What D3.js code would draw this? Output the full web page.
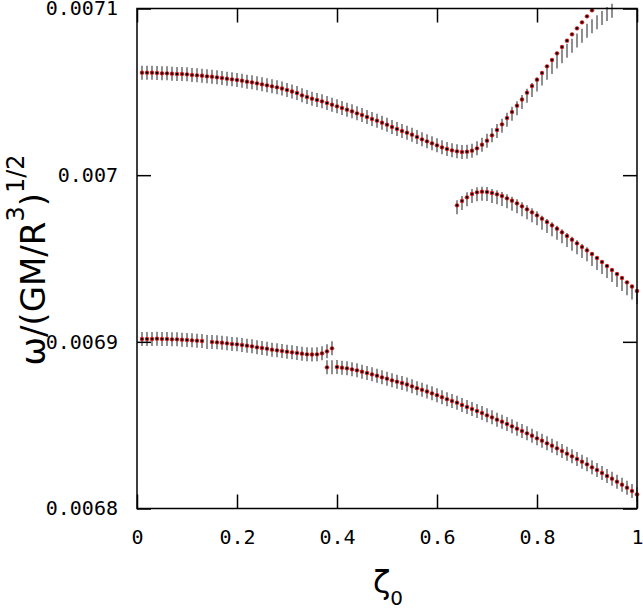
<!DOCTYPE html>
<html><head><meta charset="utf-8">
<script src="https://cdn.jsdelivr.net/npm/d3@7"></script>
<style>body{margin:0;background:#fff}</style>
</head><body>
<script>
// omega values are given in units of 1e-6 (sqrt(GM/R^3))
const UNIT = 1e-6;
const STEP = 0.01;           // spacing of zeta_0 samples
const ERR_HALF = 4.2;        // half-length of the error bars (same units)

// upper branch, zeta_0 = 0.01 ... 0.95
const startA = 0.01;
const omegaA = [7061.5,7061.5,7061.5,7061.3,7061.1,7061.1,7060.9,7060.7,7060.7,7060.5,
  7060.1,7059.9,7059.7,7059.3,7059.1,7058.7,7058.3,7057.9,7057.5,7057.1,
  7056.7,7056.1,7055.7,7055.1,7054.5,7053.9,7053.3,7052.7,7052.0,7051.1,
  7050.2,7049.3,7047.9,7046.9,7045.9,7045.1,7044.3,7043.3,7042.3,7041.3,
  7040.3,7039.3,7038.3,7037.1,7036.1,7034.9,7033.7,7032.7,7031.5,7030.3,
  7028.9,7027.7,7026.5,7025.5,7024.3,7022.9,7021.5,7020.3,7019.1,7017.9,
  7016.7,7015.7,7014.9,7014.3,7013.9,7014.1,7014.7,7016.1,7018.3,7020.7,
  7023.9,7027.1,7030.5,7034.3,7037.9,7041.7,7045.4,7049.5,7053.5,7057.3,
  7061.3,7065.3,7069.1,7073.1,7076.9,7080.7,7084.5,7088.1,7091.7,7095.3,
  7098.9,7102.5,7106.0,7109.5,7113.0];
// error-bar centres of the upper branch where they differ from the points (from zeta_0 = 0.72)
const barStartA = 0.72;
const barA = [7026.5,7029.6,7033.2,7036.8,7040.1,7043.9,7047.6,7051.1,7054.4,7058.0,
  7061.4,7064.9,7068.2,7071.3,7074.6,7077.6,7080.8,7083.6,7086.7,7089.3,
  7091.8,7094.3,7096.7,7098.7];

// middle branch, zeta_0 = 0.64 ... 1.00
const startB = 0.64;
const omegaB = [6981.9,6984.5,6986.7,6988.7,6989.7,6990.1,6989.9,6989.3,6988.5,6987.5,
  6986.1,6984.7,6983.1,6981.3,6979.5,6977.7,6975.9,6973.9,6971.9,6969.9,
  6967.9,6965.7,6963.5,6961.3,6959.1,6956.9,6954.9,6952.7,6950.3,6947.9,
  6945.5,6943.1,6940.7,6938.3,6935.7,6933.2,6930.5];
const barStartB = 0.64;
const barB = [6980.7,6983.3,6985.5,6987.5,6988.5,6988.9,6988.7,6987.5,6986.7,6985.7,
  6984.3,6982.9,6981.3,6979.5,6977.7,6975.9,6974.1,6971.5,6969.5,6967.5,
  6965.5,6963.3,6961.1,6958.9,6956.7,6954.5,6952.5,6949.7,6947.3,6944.9,
  6942.5,6940.1,6937.1,6934.7,6932.1,6929.6,6926.9];

// lower branch, left part, zeta_0 = 0.01 ... 0.39 (no point at 0.14)
const startC1 = 0.01;
const omegaC1 = [6901.7,6901.7,6901.7,6901.9,6901.7,6901.7,6901.5,6901.5,6901.3,6901.1,
  6900.9,6900.7,6900.5,null,6899.9,6899.7,6899.5,6899.1,6898.7,6898.5,
  6898.1,6897.7,6897.3,6896.7,6896.3,6895.9,6895.3,6894.9,6894.5,6894.1,
  6893.7,6893.3,6892.9,6892.5,6892.4,6892.5,6893.1,6894.3,6896.1];
const barStartC1 = 0.14;
const barC1 = [6899.9];

// lower branch, right part, zeta_0 = 0.38 ... 1.00 (no point at 0.39)
const startC2 = 0.38;
const omegaC2 = [6884.7,null,6884.9,6884.5,6884.1,6883.5,6882.9,6882.1,6881.3,6880.5,
  6879.7,6878.7,6877.9,6876.9,6876.1,6875.3,6874.4,6873.3,6872.2,6871.2,
  6870.2,6869.1,6868.0,6866.8,6865.6,6864.5,6863.5,6862.1,6860.9,6859.7,
  6858.5,6857.3,6855.9,6854.7,6853.3,6852.1,6850.7,6849.3,6847.9,6846.5,
  6845.1,6843.7,6842.1,6840.7,6839.1,6837.7,6836.1,6834.5,6832.9,6831.3,
  6829.7,6828.1,6826.5,6824.7,6823.1,6821.3,6819.5,6817.9,6816.1,6814.3,
  6812.5,6810.5,6808.5];
const barStartC2 = 0.39;
const barC2 = [6884.8];

const xTicks = [0, 0.2, 0.4, 0.6, 0.8, 1];
const xTickLabels = ["0", "0.2", "0.4", "0.6", "0.8", "1"];
const yTicks = [0.0068, 0.0069, 0.007, 0.0071];
const yTickLabels = ["0.0068", "0.0069", "0.007", "0.0071"];

const W = 643, H = 610;
const L = 137, R = 637, T = 8.5, B = 508.5;
const svg = d3.select("body").append("svg").attr("width", W).attr("height", H);
const x = d3.scaleLinear().domain([0, 1]).range([L, R]);
const y = d3.scaleLinear().domain([0.0068, 0.0071]).range([B, T]);

function build(start, omega, barStart, bars) {
  const out = omega.map((v, i) => ({z: +(start + i * STEP).toFixed(2), v: v, c: v}));
  bars.forEach((c, j) => {
    const z = +(barStart + j * STEP).toFixed(2);
    const d = out.find(o => Math.abs(o.z - z) < 1e-9);
    if (d) d.c = c;
  });
  return out;
}
const series = [
  build(startA, omegaA, barStartA, barA),
  build(startB, omegaB, barStartB, barB),
  build(startC1, omegaC1, barStartC1, barC1),
  build(startC2, omegaC2, barStartC2, barC2)
];
const inRange = v => v != null && v * UNIT >= 0.0068 && v * UNIT <= 0.0071;

const g = svg.append("g");
series.forEach(s => {
  g.selectAll(null).data(s.filter(d => inRange(d.c))).enter().append("line")
    .attr("x1", d => x(d.z)).attr("x2", d => x(d.z))
    .attr("y1", d => y((d.c - ERR_HALF) * UNIT)).attr("y2", d => y((d.c + ERR_HALF) * UNIT))
    .attr("stroke", "#6a6a6a").attr("stroke-width", 1.5);
});
series.forEach(s => {
  const pts = s.filter(d => inRange(d.v));
  g.selectAll(null).data(pts).enter().append("circle")
    .attr("cx", d => x(d.z)).attr("cy", d => y(d.v * UNIT)).attr("r", 2.2)
    .attr("fill", "#cc1c1c");
  g.selectAll(null).data(pts).enter().append("rect")
    .attr("x", d => x(d.z) - 1).attr("y", d => y(d.v * UNIT) - 1)
    .attr("width", 2).attr("height", 2).attr("fill", "#000");
});

// axes (ticks inward, mirrored)
const font = "'DejaVu Sans Mono', monospace";
const TK = 14;
const ax = [
  svg.append("g").attr("transform", `translate(${L},0)`)
    .call(d3.axisLeft(y).tickValues(yTicks).tickFormat((d, i) => yTickLabels[i]).tickSize(-TK).tickPadding(19)),
  svg.append("g").attr("transform", `translate(${R},0)`)
    .call(d3.axisRight(y).tickValues(yTicks).tickFormat("").tickSize(-TK)),
  svg.append("g").attr("transform", `translate(0,${B})`)
    .call(d3.axisBottom(x).tickValues(xTicks).tickFormat((d, i) => xTickLabels[i]).tickSize(-TK).tickPadding(21)),
  svg.append("g").attr("transform", `translate(0,${T})`)
    .call(d3.axisTop(x).tickValues(xTicks).tickFormat("").tickSize(-TK))
];
ax.forEach(a => {
  a.select(".domain").remove();
  a.selectAll(".tick line").attr("stroke", "#000").attr("stroke-width", 1.5);
  a.selectAll("text").attr("font-family", font).attr("font-size", 20).attr("fill", "#000");
});
svg.append("rect").attr("x", L).attr("y", T).attr("width", R - L).attr("height", B - T)
  .attr("fill", "none").attr("stroke", "#000").attr("stroke-width", 1.5);

// axis titles
const yt = svg.append("text").attr("transform", "translate(45,260) rotate(-90)")
  .attr("text-anchor", "middle").attr("font-family", "'DejaVu Sans', sans-serif")
  .attr("font-size", 34).attr("fill", "#000");
yt.append("tspan").text("ω/(GM/R");
yt.append("tspan").attr("font-size", 24).attr("dy", -21).text("3");
yt.append("tspan").attr("dy", 21).text(")");
yt.append("tspan").attr("font-size", 24).attr("dy", -21).text("1/2");

const xt = svg.append("text").attr("x", 388).attr("y", 593)
  .attr("text-anchor", "middle").attr("font-family", "'DejaVu Sans', sans-serif")
  .attr("font-size", 32).attr("fill", "#000");
xt.append("tspan").text("ζ");
xt.append("tspan").attr("font-size", 20).attr("dy", 12).text("0");
</script>
</body></html>
